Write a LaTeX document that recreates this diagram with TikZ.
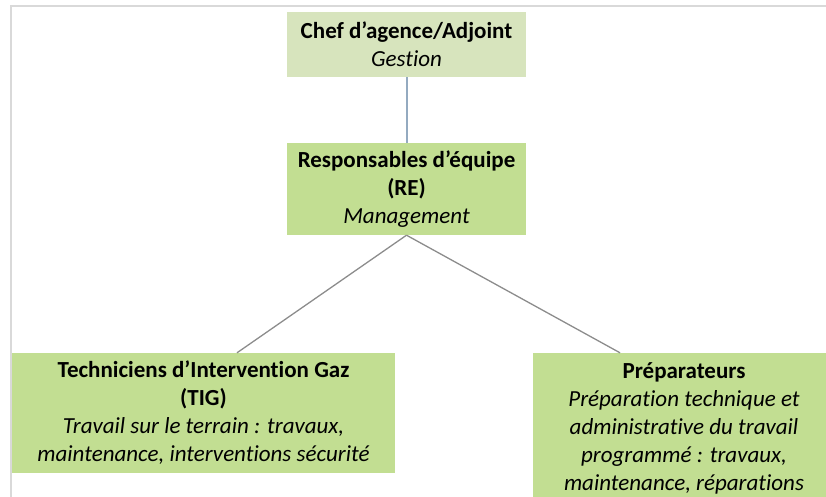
\documentclass[tikz,border=0pt]{standalone}
\usepackage{fontspec}
\setmainfont{Carlito}[Ligatures={NoCommon}]
\definecolor{topfill}{HTML}{D7E4BD}
\definecolor{boxfill}{HTML}{C2DE92}
\definecolor{frameline}{HTML}{D9D9D9}
\definecolor{blueline}{HTML}{94AAC0}
\definecolor{grayline}{HTML}{8C8C8C}
\tikzset{
  box/.style={draw=none, align=center, inner sep=0pt, font=\fontsize{23}{28}\selectfont},
  conn/.style={draw=grayline, line width=1.3pt},
}
\begin{document}
\begin{tikzpicture}[x=1pt,y=-1pt]
\useasboundingbox (0,0) rectangle (826,497);
\begin{scope}
\clip (0,0) rectangle (826,497);
\draw[frameline, line width=2pt] (11,497) -- (11,6.5) -- (826,6.5);
\node[box, fill=topfill, minimum width=239pt, minimum height=65pt] (chef) at (406.5,44.5)
  {\textbf{Chef d’agence/Adjoint}\\\textit{Gestion}};
\node[box, fill=boxfill, minimum width=239pt, minimum height=92pt] (re) at (406.5,189)
  {\textbf{Responsables d’équipe}\\\textbf{(RE)}\\\textit{Management}};
\node[box, fill=boxfill, minimum width=383pt, minimum height=120pt] (tig) at (203.5,413)
  {\textbf{Techniciens d’Intervention Gaz}\\\textbf{(TIG)}\\\textit{Travail sur le terrain : travaux,}\\\textit{maintenance, interventions sécurité}};
\node[box, fill=boxfill, minimum width=302pt, minimum height=150pt] (prep) at (684,428)
  {\textbf{Préparateurs}\\\textit{Préparation technique et}\\\textit{administrative du travail}\\\textit{programmé : travaux,}\\\textit{maintenance, réparations}};
\draw[draw=blueline, line width=2pt] (chef.south) -- (re.north);
\draw[conn] (re.south) -- ([xshift=33.5pt]tig.north);
\draw[conn] (re.south) -- ([xshift=-64pt]prep.north);
\end{scope}
\end{tikzpicture}
\end{document}
